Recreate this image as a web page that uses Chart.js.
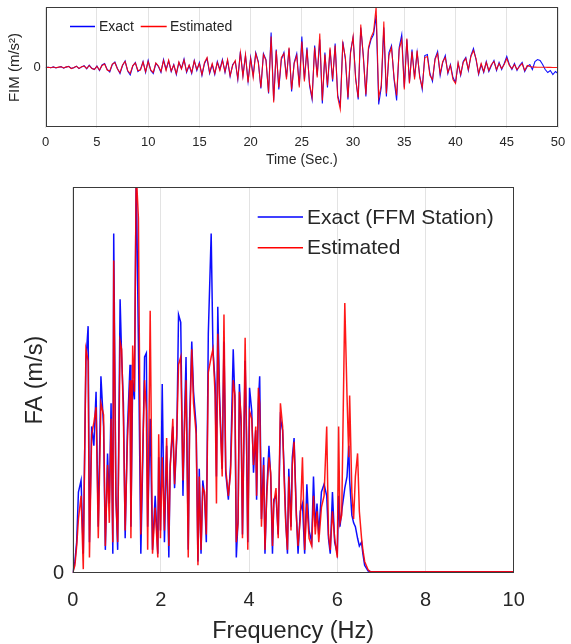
<!DOCTYPE html>
<html><head><meta charset="utf-8">
<script src="https://cdn.jsdelivr.net/npm/chart.js@4.4.0/dist/chart.umd.min.js"></script>
<style>
html,body{margin:0;padding:0;background:#fff;width:571px;height:644px;overflow:hidden;position:relative}
#c1{position:absolute;left:0;top:0}
#c2{position:absolute;left:0;top:170px}
</style></head><body>
<canvas id="c1" width="571" height="170"></canvas>
<canvas id="c2" width="571" height="480"></canvas>
<script>
// ---------- top panel: FIM time history ----------
const timeStep = 0.25; // seconds between samples
const timeTicks = [0,5,10,15,20,25,30,35,40,45,50];
const fimExact = [
 0,0.3,-0.2,0.6,-0.4,0.2,0.9,-0.7,0.4,1.2,-0.9,-0.3,1.4,-1.1,0.6,1.8,-1.3,2.4,-0.8,-2.1,
 1.5,-3,2.5,4,-2,-4.5,3,5.5,-1,-6,2,6.5,-3.5,-7.5,1.5,5,-4,-2,6,-5,
 7,-3,-6,4,1,-5,8,-2,6.5,-4,3,-7,5,-1,8.5,-5,2,-6,7,-3,
 5,-8,4,9,-6,3,-7,6,-2,8,-5,7,-9,3,6,-12,16,-8,12,-14,
 10,-8,15,6,-21,14,8,-26,35,-33,18,-22,8,15,-10,19,-24,5,14,-18,
 31,-12,20,-18,-32,22,-8,28,-36,15,-20,18,-14,24,-28,-38,26,8,-32,16,
 30,-10,-32,40,12,-29,18,28,33,52,-37,-20,40,-29,15,22,-12,-33,20,33,
 -20,28,-15,18,-10,15,-8,-22,12,13,-6,-14,9,16,-8,5,12,-6,3,-10,
 -15,4,-8,6,10,-3,12,19,8,-7,3,-5,6,-4,2,7,-3,5,-2,4,
 11,3,-2,4,-3,2,5,-4,1,3,-2,6,8,7,3,-2,-5,-3,-7,-4,-6
];
const fimEstimated = [
 0,0.2,-0.3,0.5,-0.2,0.4,0.7,-0.5,0.6,1.0,-1.1,-0.1,1.2,-0.9,0.8,1.5,-1.0,2.0,-1.0,-1.8,
 1.2,-2.5,2,3.5,-2.5,-3.5,3.5,5,-1.5,-5,2.5,6,-3,-6,2,4.5,-3,-2.5,5.5,-4,
 6,-2.5,-5,4.5,1.5,-4,7,-3,7.5,-3.5,2.5,-6,5.5,-1.5,7.5,-4,2.5,-5,6.5,-2,
 4,-7,5,10,-5,4,-6,5,-3,7,-4,8,-8,2,7,-11,15,-9,13,-15,
 9,-10,14,5,-20,13,7,-25,31,-35,17,-20,10,14,-12,20,-22,4,12,-20,
 26,-14,18,-16,-30,20,-10,34,-33,13,-18,20,-12,22,-30,-42,24,10,-30,14,
 31,-12,-30,43,10,-27,20,30,36,61,-30,-18,46,-26,12,20,-10,-28,18,28,
 -22,29,-16,16,-12,17,-10,-20,10,11,-8,-12,8,14,-6,6,10,-5,2,-12,
 -16,5,-7,5,9,-2,11,17,9,-6,4,-4,5,-3,3,6,-2,4,-1,3,
 9,2,-1,3,-2,1,4,-3,2,1,0.5,0.4,0.3,0.3,0.2,0.2,0.1,0.1,0,0,0
];

// ---------- bottom panel: Fourier amplitude ----------
const freqTicks = [0,2,4,6,8,10];
const freqHz = [
 0,0.05,0.09,0.13,0.19,0.24,0.30,0.35,0.38,0.43,
 0.48,0.53,0.58,0.64,0.70,0.74,0.79,0.83,0.87,0.91,
 0.93,0.98,1.02,1.075,1.11,1.15,1.19,1.24,1.30,1.32,
 1.36,1.40,1.44,1.49,1.545,1.59,1.63,1.67,1.70,1.757,
 1.81,1.87,1.93,1.95,1.99,2.03,2.08,2.13,2.18,2.21,
 2.27,2.31,2.36,2.40,2.45,2.50,2.54,2.57,2.62,2.65,
 2.70,2.74,2.80,2.84,2.87,2.91,2.95,2.99,3.03,3.075,
 3.14,3.18,3.23,3.26,3.29,3.33,3.39,3.43,3.47,3.53,
 3.58,3.64,3.68,3.71,3.75,3.78,3.82,3.85,3.91,3.94,
 3.97,4.01,4.06,4.10,4.15,4.17,4.21,4.24,4.28,4.33,
 4.36,4.40,4.45,4.49,4.53,4.56,4.61,4.66,4.71,4.76,
 4.79,4.83,4.87,4.90,4.95,4.98,5.02,5.07,5.11,5.16,
 5.21,5.26,5.31,5.36,5.42,5.46,5.50,5.54,5.58,5.64,
 5.70,5.76,5.80,5.84,5.89,5.94,6.00,6.03,6.06,6.10,
 6.17,6.22,6.26,6.28,6.33,6.37,6.41,6.46,6.50,6.55,
 6.58,6.62,6.70,6.75,7,8,9,10
];
const faExact = [
 0,3,8,21,24,5,55,64,8,38,
 33,47,12,51,38,6,31,18,44,5,
 88,20,6,71,56,44,9,37,54,12,
 50,45,104,60,5,30,56,57,12,40,
 6,20,5,30,11,49,8,33,4,28,
 38,22,35,67,65,20,42,56,6,39,
 60,47,38,3,27,5,24,20,8,62,
 88,58,49,25,69,46,27,60,26,19,
 28,58,44,4,14,49,38,10,55,36,
 8,48,42,26,37,19,44,51,14,30,
 5,21,33,25,5,19,20,10,40,37,
 28,14,5,27,12,30,35,16,5,16,
 18,5,23,11,8,25,12,18,10,21,
 23,20,9,5,21,8,5,20,12,16,
 22,25,33,24,15,13,12,9,7,8,
 5,2,0.5,0.4,0.3,0.3,0.3,0.3
];
const faEstimated = [
 0,2,7,14,20,1,58,55,4,36,
 39,43,9,44,41,7,28,13,40,8,
 81,19,8,60,58,40,11,34,50,9,
 59,47,104,92,10,33,50,42,6,68,
 5,17,4,36,9,30,11,35,7,27,
 40,23,36,54,56,24,40,50,4,36,
 58,44,36,2,25,6,22,21,10,52,
 56,58,46,18,62,44,25,67,27,20,
 26,50,46,8,13,47,40,9,61,37,
 6,42,40,28,38,20,48,44,12,28,
 6,20,30,26,7,18,22,9,44,38,
 26,13,6,25,11,28,34,15,7,14,
 30,6,18,9,7,20,10,16,8,17,
 20,38,10,6,16,9,4,38,13,15,
 70,46,30,46,21,14,25,31,16,9,
 6,3,0.8,0.3,0.3,0.3,0.3,0.3
];

const FONT = "'Liberation Sans', Arial, Helvetica, sans-serif";
const TXT = '#262626';
const BLUE = 'rgba(0,0,255,0.95)';
const RED = 'rgba(255,0,0,0.9)';

const framePlugin = {
  id: 'frame',
  afterDraw(chart) {
    const {ctx, chartArea: a} = chart;
    ctx.save();
    ctx.strokeStyle = '#3a3a3a';
    ctx.lineWidth = 1;
    ctx.strokeRect(Math.round(a.left) + 0.5, Math.round(a.top) + 0.5,
                   Math.round(a.right - a.left) - 1, Math.round(a.bottom - a.top) - 1);
    ctx.restore();
  }
};

function legendPlugin(items, fontSize) {
  return {
    id: 'customLegend',
    afterDraw(chart) {
      const ctx = chart.ctx;
      ctx.save();
      ctx.font = fontSize + 'px ' + FONT;
      ctx.textBaseline = 'middle';
      ctx.fillStyle = TXT;
      items.forEach(it => {
        ctx.strokeStyle = it.color;
        ctx.lineWidth = 1.5;
        ctx.beginPath();
        ctx.moveTo(it.x0, it.y);
        ctx.lineTo(it.x1, it.y);
        ctx.stroke();
        ctx.fillText(chart.data.datasets[it.ds].label, it.tx, it.y + 1);
      });
      ctx.restore();
    }
  };
}

function noPadY(w) {
  return s => { s.width = w; s.paddingTop = 0; s.paddingBottom = 0; s.paddingLeft = 0; s.paddingRight = 0; };
}
function noPadX(h) {
  return s => { s.height = h; s.paddingTop = 0; s.paddingBottom = 0; s.paddingLeft = 0; s.paddingRight = 0; };
}

// ---- top chart ----
const topExact = fimExact.map((v, i) => ({x: i * timeStep, y: v}));
const topEst = fimEstimated.map((v, i) => ({x: i * timeStep, y: v}));

new Chart(document.getElementById('c1'), {
  type: 'line',
  data: { datasets: [
    { label: 'Exact', data: topExact, borderColor: BLUE, borderWidth: 1.1, pointRadius: 0, tension: 0, order: 1 },
    { label: 'Estimated', data: topEst, borderColor: RED, borderWidth: 1.1, pointRadius: 0, tension: 0, order: 0 }
  ]},
  options: {
    responsive: false, animation: false, devicePixelRatio: 1,
    layout: { padding: { left: 0, right: 13, top: 7.3, bottom: 0 } },
    plugins: { legend: { display: false }, tooltip: { enabled: false } },
    scales: {
      x: {
        type: 'linear', min: 0, max: 50,
        afterBuildTicks: s => { s.ticks = timeTicks.map(v => ({value: v})); },
        afterFit: noPadX(42.3),
        grid: { color: '#e3e3e3', drawTicks: false, lineWidth: 1 },
        border: { display: false },
        ticks: { color: TXT, font: { family: FONT, size: 13 }, padding: 7, maxRotation: 0 },
        title: { display: true, text: 'Time (Sec.)', color: TXT, font: { family: FONT, size: 14 }, padding: { top: 0, bottom: 1.6 } }
      },
      y: {
        min: -60.3, max: 60.3,
        afterBuildTicks: s => { s.ticks = [{value: 0}]; },
        afterFit: noPadY(45.7),
        grid: { display: false, drawTicks: false },
        border: { display: false },
        ticks: { color: TXT, font: { family: FONT, size: 13 }, padding: 5 },
        title: { display: true, text: 'FIM (m/s²)', color: TXT, font: { family: FONT, size: 15 }, padding: { top: 6, bottom: 0 } }
      }
    }
  },
  plugins: [framePlugin, legendPlugin([
    { ds: 0, color: '#0000ff', x0: 70, x1: 95, tx: 99, y: 26.5 },
    { ds: 1, color: '#ff0000', x0: 140.7, x1: 166.7, tx: 170, y: 26.5 }
  ], 14)]
});

// ---- bottom chart ----
const botExact = freqHz.map((f, i) => ({x: f, y: faExact[i]}));
const botEst = freqHz.map((f, i) => ({x: f, y: faEstimated[i]}));

new Chart(document.getElementById('c2'), {
  type: 'line',
  data: { datasets: [
    { label: 'Exact (FFM Station)', data: botExact, borderColor: BLUE, borderWidth: 1.5, pointRadius: 0, tension: 0, order: 1 },
    { label: 'Estimated', data: botEst, borderColor: RED, borderWidth: 1.5, pointRadius: 0, tension: 0, order: 0 }
  ]},
  options: {
    responsive: false, animation: false, devicePixelRatio: 1,
    layout: { padding: { left: 0, right: 57.3, top: 17.3, bottom: 0 } },
    plugins: { legend: { display: false }, tooltip: { enabled: false } },
    scales: {
      x: {
        type: 'linear', min: 0, max: 10,
        afterBuildTicks: s => { s.ticks = freqTicks.map(v => ({value: v})); },
        afterFit: noPadX(77),
        grid: { color: '#e3e3e3', drawTicks: false, lineWidth: 1 },
        border: { display: false },
        ticks: { color: TXT, font: { family: FONT, size: 20 }, padding: 15, maxRotation: 0 },
        title: { display: true, text: 'Frequency (Hz)', color: TXT, font: { family: FONT, size: 23.5 }, padding: { top: 0, bottom: 4 } }
      },
      y: {
        min: 0, max: 100,
        afterBuildTicks: s => { s.ticks = [{value: 0}]; },
        afterFit: noPadY(72.7),
        grid: { display: false, drawTicks: false },
        border: { display: false },
        ticks: { color: TXT, font: { family: FONT, size: 20 }, padding: 8.7 },
        title: { display: true, text: 'FA (m/s)', color: TXT, font: { family: FONT, size: 23.5 }, padding: { top: 21, bottom: 0 } }
      }
    }
  },
  plugins: [framePlugin, legendPlugin([
    { ds: 0, color: '#0000ff', x0: 257.7, x1: 303, tx: 307, y: 47 },
    { ds: 1, color: '#ff0000', x0: 257.7, x1: 303, tx: 307, y: 77.7 }
  ], 21)]
});
</script>
</body></html>
